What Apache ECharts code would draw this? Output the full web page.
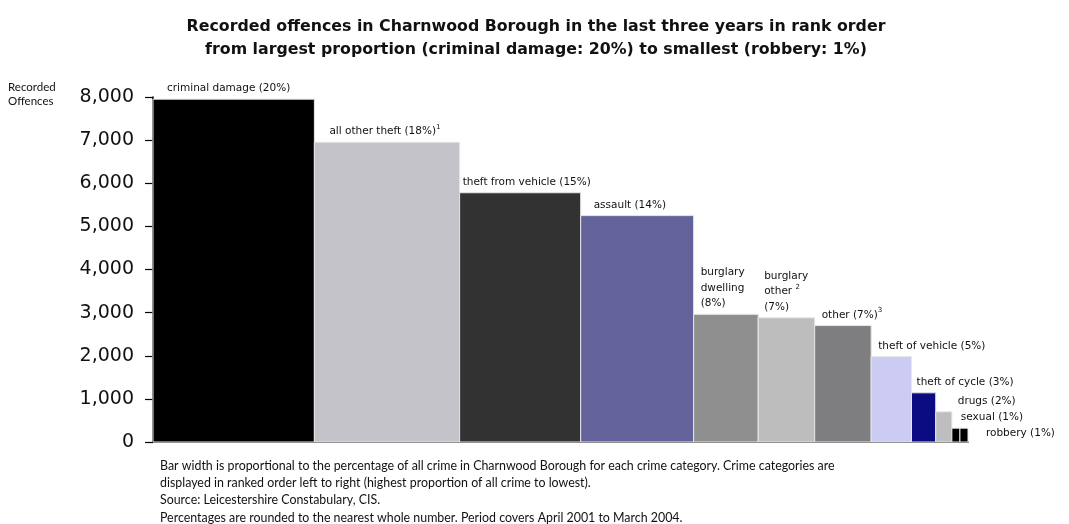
<!DOCTYPE html>
<html>
<head>
<meta charset="utf-8">
<script src="https://cdn.jsdelivr.net/npm/echarts@6/dist/echarts.min.js"></script>
<style>
  body { margin: 0; background: #fff; }
</style>
</head>
<body>
<div id="chart" style="width:1069px;height:524px;"></div>
<script>
  // crime categories, share of all crime (bar width) and recorded offences (bar height)
  const categories = ['criminal damage', 'all other theft', 'theft from vehicle', 'assault',
    'burglary dwelling', 'burglary other', 'other', 'theft of vehicle', 'theft of cycle',
    'drugs', 'sexual', 'robbery'];
  const percents = [20, 18, 15, 14, 8, 7, 7, 5, 3, 2, 1, 1];
  const offences = [7950, 6950, 5780, 5250, 2960, 2880, 2700, 1980, 1140, 700, 320, 320];
  const barLabels = [
    'criminal damage (20%)',
    'all other theft (18%){sup|1}',
    'theft from vehicle (15%)',
    'assault (14%)',
    'burglary\ndwelling\n(8%)',
    'burglary\nother {sup|2}\n(7%)',
    'other (7%){sup|3}',
    'theft of vehicle (5%)',
    'theft of cycle (3%)',
    'drugs (2%)',
    'sexual (1%)',
    'robbery (1%)'
  ];
  const yTicks = [0, 1000, 2000, 3000, 4000, 5000, 6000, 7000, 8000];

  // look
  const colors = ['#000000', '#c4c3c9', '#323232', '#63629b', '#8f8f8f', '#bdbdbd',
    '#7e7e81', '#cbcbf3', '#0b0b82', '#bebebe', '#000000', '#000000'];
  const labelDx = [14, 15, 3, 13, 7, 6, 7, 7, 5, 22, 9, 26];
  const labelDy = [0, 0, 0, 0, 0, 0, 0, 0, 0, 0, 0, 16];

  let cum = 0;
  const barData = categories.map(function (c, i) {
    const start = cum;
    cum += percents[i];
    return [start, cum, offences[i], i];
  });

  const chart = echarts.init(document.getElementById('chart'));
  const font = 'Lato, "Open Sans", sans-serif';
  const wide = '"DejaVu Sans", sans-serif';

  const option = {
    backgroundColor: '#fff',
    animation: false,
    title: {
      text: 'Recorded offences in Charnwood Borough in the last three years in rank order\nfrom largest proportion (criminal damage: 20%) to smallest (robbery: 1%)',
      left: 531,
      textAlign: 'center',
      top: 10,
      textStyle: { fontFamily: wide, fontSize: 15.8, fontWeight: 'bold', color: '#111', lineHeight: 23 }
    },
    grid: { left: 153, right: 101, top: 97, bottom: 82 },
    xAxis: {
      type: 'value', min: 0, max: cum,
      axisLine: { show: true, onZero: false, lineStyle: { color: '#000', width: 1.5 } },
      axisTick: { show: false }, axisLabel: { show: false }, splitLine: { show: false }
    },
    yAxis: {
      type: 'value', min: yTicks[0], max: yTicks[yTicks.length - 1], interval: 1000,
      axisLine: { show: true, lineStyle: { color: '#000', width: 1.5 } },
      axisTick: { show: true, inside: false, length: 8, lineStyle: { color: '#000', width: 1.2 } },
      axisLabel: {
        margin: 19, fontFamily: wide, fontSize: 19, color: '#111',
        formatter: function (v) { return v.toLocaleString('en-GB'); }
      },
      splitLine: { show: false }
    },
    series: [{
      type: 'custom',
      data: barData,
      encode: { x: [0, 1], y: 2 },
      renderItem: function (params, api) {
        const i = api.value(3);
        const p0 = api.coord([api.value(0), api.value(2)]);
        const p1 = api.coord([api.value(1), 0]);
        return {
          type: 'group',
          children: [{
            type: 'rect',
            shape: { x: p0[0], y: p0[1], width: p1[0] - p0[0], height: p1[1] - p0[1] },
            style: { fill: colors[i], stroke: '#e6e6e6', lineWidth: 1 }
          }, {
            type: 'text',
            x: p0[0] + labelDx[i],
            y: p0[1] - 3 + labelDy[i],
            style: {
              text: barLabels[i],
              fontFamily: wide, fontSize: 10.5, fill: '#111',
              lineHeight: 15.5,
              align: 'left', verticalAlign: 'bottom',
              rich: { sup: { fontSize: 7, verticalAlign: 'top', fill: '#111', fontFamily: wide } }
            }
          }]
        };
      }
    }],
    graphic: [{
      type: 'text', left: 8, top: 80,
      style: { text: 'Recorded\nOffences', fontFamily: font, fontSize: 11.5, lineHeight: 14, fill: '#111' }
    }, {
      type: 'text', left: 160, top: 457,
      style: {
        text: 'Bar width is proportional to the percentage of all crime in Charnwood Borough for each crime category. Crime categories are\n' +
          'displayed in ranked order left to right (highest proportion of all crime to lowest).\n' +
          'Source: Leicestershire Constabulary, CIS.\n' +
          'Percentages are rounded to the nearest whole number. Period covers April 2001 to March 2004.',
        fontFamily: font, fontSize: 12.4, lineHeight: 17.3, fill: '#111'
      }
    }]
  };

  chart.setOption(option);
</script>
</body>
</html>
